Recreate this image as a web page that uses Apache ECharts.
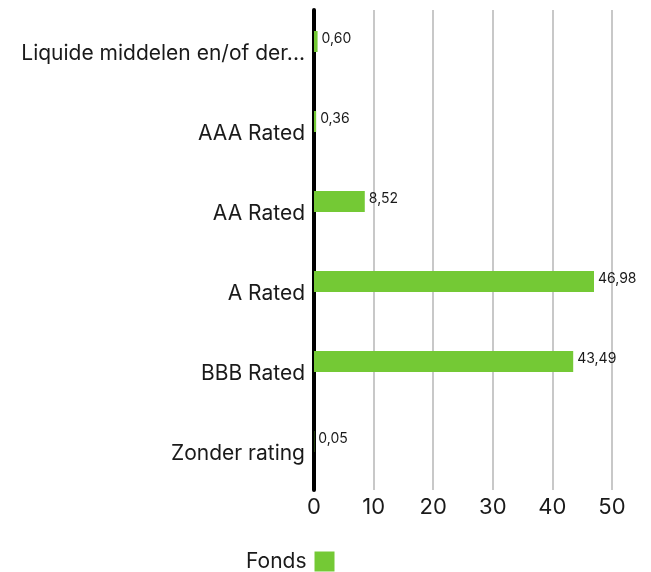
<!DOCTYPE html>
<html>
<head>
<meta charset="utf-8">
<script src="https://cdn.jsdelivr.net/npm/echarts@6/dist/echarts.min.js"></script>
<style>
html,body{margin:0;padding:0;background:#fff;}
#chart{width:651px;height:572px;}
</style>
</head>
<body>
<div id="chart"></div>
<script>
var categories = ["Liquide middelen en/of derivaten", "AAA Rated", "AA Rated", "A Rated", "BBB Rated", "Zonder rating"];
var fondsValues = [0.60, 0.36, 8.52, 46.98, 43.49, 0.05];
var xTicks = [0, 10, 20, 30, 40, 50];
var seriesName = "Fonds";

var FONT = "Inter";
var chart = echarts.init(document.getElementById('chart'), null, {renderer: 'canvas'});
chart.setOption({
  animation: false,
  textStyle: {fontFamily: FONT},
  grid: {left: 314, right: 39, top: 10, bottom: 82, containLabel: false},
  legend: {
    data: [seriesName],
    top: 551,
    left: 246,
    align: 'right',
    icon: 'rect',
    itemWidth: 20,
    itemHeight: 20,
    itemGap: 10,
    padding: 0,
    textStyle: {fontFamily: FONT, fontSize: 21, color: '#1a1a1a', padding: [0, 3, 0, 0]}
  },
  xAxis: {
    type: 'value',
    min: xTicks[0],
    max: xTicks[xTicks.length - 1],
    interval: 10,
    axisLine: {show: false},
    axisTick: {show: false},
    axisLabel: {fontFamily: FONT, fontSize: 22, color: '#1a1a1a', margin: 6},
    splitLine: {show: true, lineStyle: {color: '#c8c8c8', width: 2}}
  },
  yAxis: {
    type: 'category',
    inverse: true,
    data: categories,
    axisLine: {show: true, lineStyle: {color: '#000', width: 4}},
    axisTick: {show: false},
    axisLabel: {
      fontFamily: FONT, fontSize: 21, color: '#1a1a1a', margin: 9,
      verticalAlign: 'top', lineHeight: 8,
      width: 290, overflow: 'truncate', ellipsis: '...'
    }
  },
  series: [
    {
      name: seriesName,
      type: 'bar',
      data: fondsValues,
      barWidth: 21,
      barGap: '-19%',
      itemStyle: {color: '#74c935'},
      label: {
        show: true,
        position: 'right',
        distance: 4,
        offset: [0, -3],
        fontFamily: FONT,
        fontSize: 14,
        color: '#1a1a1a',
        formatter: function (p) { return p.value.toFixed(2).replace('.', ','); }
      }
    },
    {
      name: 'Benchmark',
      type: 'bar',
      data: categories.map(function () { return null; }),
      barWidth: 21,
      itemStyle: {color: '#000'}
    }
  ]
});
</script>
</body>
</html>
